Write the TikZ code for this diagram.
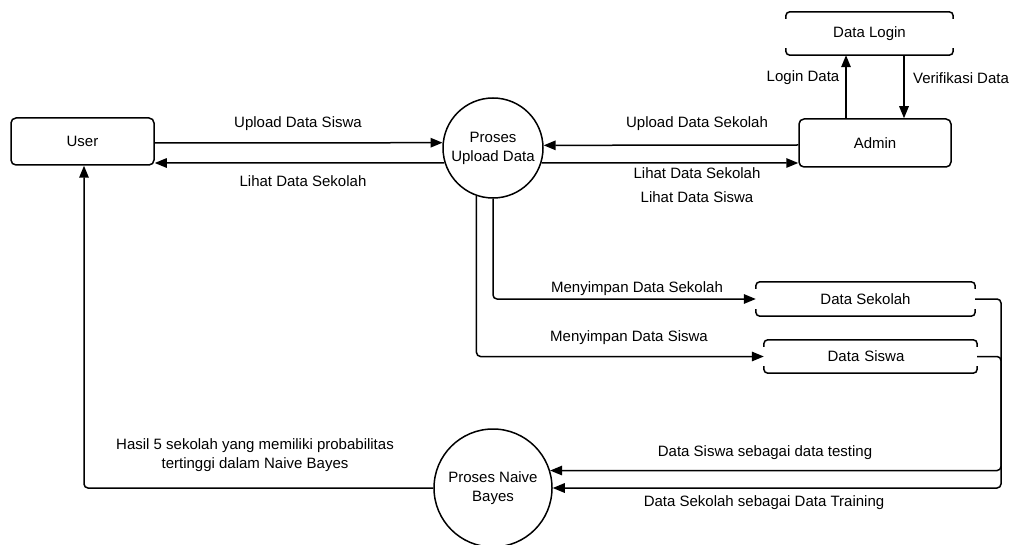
\documentclass[tikz,border=0pt]{standalone}
\usepackage{fontspec}
\setmainfont{Liberation Sans}
\usetikzlibrary{arrows.meta,calc}
\begin{document}
\begin{tikzpicture}[x=1pt,y=-1pt,
  every node/.style={font=\fontsize{15}{19}\selectfont, inner sep=0pt},
  entity/.style={draw, line width=1.5pt, rounded corners=5pt, rectangle},
  proc/.style={draw, line width=1.5pt, circle, align=center},
  store/.style={rectangle, draw=none},
  storeline/.style={line width=1.5pt, rounded corners=4pt},
  flow/.style={line width=1.5pt, rounded corners=4pt, -{Triangle[length=12pt,width=9.5pt]}},
  lbl/.style={align=center}]
\useasboundingbox (0,0) rectangle (1011,545);

% nodes
\node[entity, minimum width=143pt, minimum height=47pt] (user) at (82.5,141.5) {User};
\node[proc, minimum size=100pt] (up) at (493,148) {Proses\\Upload Data};
\node[entity, minimum width=152pt, minimum height=48pt] (admin) at (875,143) {Admin};
\node[store, minimum width=167pt, minimum height=43pt] (login) at (869.5,33.5) {Data Login};
\node[store, minimum width=219pt, minimum height=34pt] (sek) at (865.5,299) {Data Sekolah};
\node[store, minimum width=213pt, minimum height=33pt, text width=205pt, align=center] (sis) at (870.5,356.5) {\hspace*{-9pt}Data Siswa};
\node[proc, minimum size=118pt] (nb) at (493,488) {Proses Naive\\Bayes};

% data store outlines
\foreach \n in {login,sek,sis}{
  \draw[storeline] ($(\n.north west)+(0,7)$) -- (\n.north west) -- (\n.north east) -- ($(\n.north east)+(0,7)$);
  \draw[storeline] ($(\n.south west)+(0,-7)$) -- (\n.south west) -- (\n.south east) -- ($(\n.south east)+(0,-7)$);
}

\coordinate (rx) at (1001,0);

% flows
\draw[flow] ($(user.east)+(0,1.5)$) -- (up.174.3);
\draw[flow] (up.197.5) -- ($(user.east)+(0,21.5)$);
\draw[flow] ($(admin.west)+(0,2)$) -- (up.3.4);
\draw[flow] (up.-17.5) -- ($(admin.west)+(0,20)$);
\draw[flow] ($(admin.north)+(-29,0)$) -- ($(login.south)+(-23.5,0)$);
\draw[flow] ($(login.south)+(34.5,0)$) -- ($(admin.north)+(29,0)$);
\draw[flow] (up.south) |- (sek.west);
\draw[flow] (up.251.3) |- (sis.west);
\draw[flow] (sek.east) -- (sek.east -| rx) -- (rx |- nb.east) -- (nb.east);
\draw[flow] (sis.east) -- (sis.east -| rx) -- (rx |- nb.17.8) -- (nb.17.8);
\draw[flow] (nb.west) -| ($(user.south)+(1.5,0)$);

% labels
\node[lbl] (l1) at (298,124) {Upload Data Siswa};
\node[lbl] (l2) at (303,181) {Lihat Data Sekolah};
\node[lbl] (l3) at (697,124) {Upload Data Sekolah};
\node[lbl] (l4) at (697,173) {Lihat Data Sekolah};
\node[lbl] (l5) at (697,197) {Lihat Data Siswa};
\node[lbl] (l6) at (803,78) {Login Data};
\node[lbl] (l7) at (961,78) {Verifikasi Data};
\node[lbl] (l8) at (637,289) {Menyimpan Data Sekolah};
\node[lbl] (l9) at (629,338) {Menyimpan Data Siswa};
\node[lbl] (l10) at (765,453) {Data Siswa sebagai data testing};
\node[lbl] (l11) at (764,503) {Data Sekolah sebagai Data Training};
\node[lbl] (l12) at (255,455.5) {Hasil 5 sekolah yang memiliki probabilitas\\tertinggi dalam Naive Bayes};
\end{tikzpicture}
\end{document}
